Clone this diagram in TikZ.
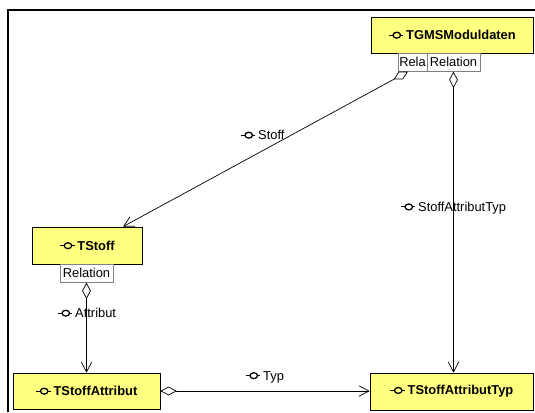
\documentclass[tikz,border=0pt]{standalone}
\usepackage{fontspec}
\setmainfont{Liberation Sans}
\usepackage{tikz}
\usetikzlibrary{positioning, arrows.meta, calc}
\definecolor{klasse}{RGB}{255,255,128}
\newcommand{\ifc}{\tikz[baseline=-0.65ex]{\draw[line width=1pt] (0pt,0pt) -- (3.5pt,0pt) (10pt,0pt) -- (12.5pt,0pt); \draw[line width=1.1pt] (6.8pt,0pt) ellipse [x radius=3.2pt, y radius=2.5pt];}}

\begin{document}
\begin{tikzpicture}[x=0.03cm, y=-0.03cm, font=\fontsize{11}{13}\selectfont,
		klasse/.style={draw, line width=0.6pt, fill=klasse, inner sep=0pt, font=\fontsize{11}{13}\selectfont\bfseries},
		reiter/.style={draw=gray, line width=0.5pt, fill=white, inner sep=0pt, minimum height=18*0.03cm},
		beziehung/.style={line width=0.6pt, {Diamond[open, length=14pt, width=7.5pt]}-{Straight Barb[length=8.5pt, width=9pt]}}]
		\useasboundingbox (0, 0) rectangle (535, 412);
		
		% Draw frame
		\draw[line width=1.6pt] (8, 412) -- (8, 10) -- (535, 10);
		
		% Classes
		\node[klasse, minimum width=162*0.03cm, minimum height=36*0.03cm] (mod) at (452, 35) {\ifc\,TGMSModuldaten};
		\node[klasse, minimum width=110*0.03cm, minimum height=37*0.03cm] (stoff) at (87, 245.5) {\ifc\,TStoff};
		\node[klasse, minimum width=147*0.03cm, minimum height=36*0.03cm] (attr) at (86.5, 391) {\ifc\,TStoffAttribut};
		\node[klasse, minimum width=163*0.03cm, minimum height=37*0.03cm] (typ) at (451.5, 391.5) {\ifc\,TStoffAttributTyp};
		
		% Relation tabs
		\node[reiter, minimum width=29*0.03cm, anchor=north] (rela) at (412.5, 53) {Rela};
		\node[reiter, minimum width=53*0.03cm, anchor=north] (rel) at (453.5, 53) {Relation};
		\node[reiter, minimum width=53*0.03cm, anchor=north] (srel) at (86.5, 264) {Relation};
		
		% Associations
		\draw[beziehung] ($(rela.south)+(-4.5, 0)$) -- ($(stoff.north)+(36, 0)$);
		\draw[beziehung] (rel.south) -- (rel.south |- typ.north);
		\draw[beziehung] (srel.south) -- (srel.south |- attr.north);
		\draw[beziehung] (attr.east) -- (attr.east -| typ.west);
		
		% Role names
		\node[anchor=west, inner sep=0pt] (lstoff) at (240, 135) {\ifc\,Stoff};
		\node[anchor=west, inner sep=0pt] (ltyp) at (400, 208) {\ifc\,StoffAttributTyp};
		\node[anchor=west, inner sep=0pt] (lattr) at (57, 313) {\ifc\,Attribut};
		\node[anchor=west, inner sep=0pt] (lt) at (245, 377) {\ifc\,Typ};
	\end{tikzpicture}
\end{document}
